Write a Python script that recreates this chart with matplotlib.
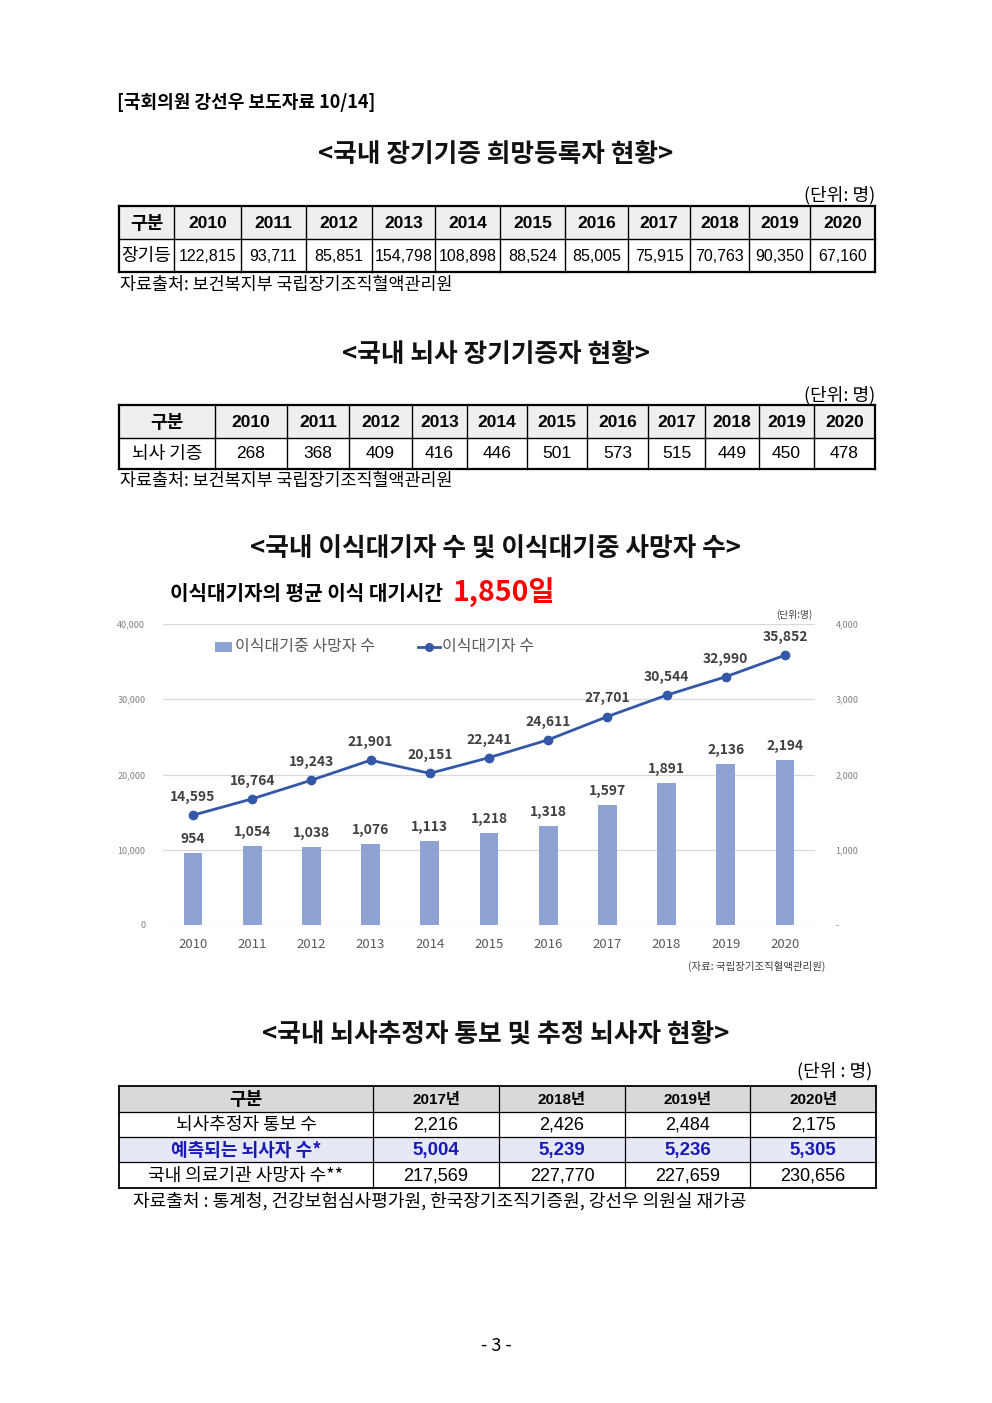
import matplotlib.pyplot as plt
from matplotlib.patches import Rectangle
from matplotlib.lines import Line2D

plt.rcParams['font.family'] = ['Noto Sans CJK KR', 'DejaVu Sans']

# ---- data ----
years = ['2010', '2011', '2012', '2013', '2014', '2015', '2016', '2017', '2018', '2019', '2020']
pledge = [122815, 93711, 85851, 154798, 108898, 88524, 85005, 75915, 70763, 90350, 67160]
braindead_donors = [268, 368, 409, 416, 446, 501, 573, 515, 449, 450, 478]
waiting = [14595, 16764, 19243, 21901, 20151, 22241, 24611, 27701, 30544, 32990, 35852]
deaths = [954, 1054, 1038, 1076, 1113, 1218, 1318, 1597, 1891, 2136, 2194]

t4_years = ['2017년', '2018년', '2019년', '2020년']
t4_labels = ['뇌사추정자 통보 수', '예측되는 뇌사자 수*', '국내 의료기관 사망자 수**']
notified = [2216, 2426, 2484, 2175]
predicted = [5004, 5239, 5236, 5305]
hospital_deaths = [217569, 227770, 227659, 230656]

ARIAL = ['Liberation Sans', 'Noto Sans CJK KR']
KR = ['Noto Sans CJK KR']

fig = plt.figure(figsize=(9.92, 14.03), dpi=100)
bg = fig.add_axes([0, 0, 1, 1])
bg.set_xlim(0, 992)
bg.set_ylim(1403, 0)
bg.axis('off')


def draw_table(xs, ys, rows, fills, fonts, lw_out=1.6, lw_in=1.0):
    for r in range(len(ys) - 1):
        if fills[r]:
            bg.add_patch(Rectangle((xs[0], ys[r]), xs[-1] - xs[0], ys[r + 1] - ys[r],
                                   facecolor=fills[r], edgecolor='none', zorder=1))
        for c in range(len(xs) - 1):
            kw = dict(fonts[r])
            first = kw.pop('first', {})
            if c == 0:
                kw.update(first)
            bg.text((xs[c] + xs[c + 1]) / 2, (ys[r] + ys[r + 1]) / 2 + 1, rows[r][c],
                    ha='center', va='center', zorder=3, **kw)
    for i, x in enumerate(xs):
        lw = lw_out if i in (0, len(xs) - 1) else lw_in
        bg.plot([x, x], [ys[0], ys[-1]], color='black', lw=lw, zorder=2)
    for i, y in enumerate(ys):
        lw = lw_out if i in (0, len(ys) - 1) else lw_in
        bg.plot([xs[0], xs[-1]], [y, y], color='black', lw=lw, zorder=2)


TITLE = dict(fontsize=18.5, fontweight='bold', ha='center', va='center', color='#111111')
NOTE = dict(fontsize=12.5, fontweight='light', ha='left', va='center')

# ---- header ----
bg.text(117, 103, '[국회의원 강선우 보도자료 10/14]', fontsize=13, fontweight='bold',
        va='center', ha='left')

# ---- table 1 ----
bg.text(496, 155, '<국내 장기기증 희망등록자 현황>', **TITLE)
bg.text(875, 195, '(단위: 명)', fontsize=13, fontweight='light', ha='right', va='center')
xs1 = [119, 174, 241, 306, 372, 435, 500, 565, 628, 690, 749, 810, 875]
ys1 = [206, 239, 272]
rows1 = [['구분'] + years, ['장기등'] + [f'{v:,}' for v in pledge]]
draw_table(xs1, ys1, rows1, ['#efefef', None],
           [dict(family=ARIAL, fontsize=12.5, fontweight='bold',
                 first=dict(family=KR, fontsize=13)),
            dict(family=ARIAL, fontsize=11.5,
                 first=dict(family=KR, fontsize=13, fontweight='light'))])
bg.text(120, 285, '자료출처: 보건복지부 국립장기조직혈액관리원', **NOTE)

# ---- table 2 ----
bg.text(496, 355, '<국내 뇌사 장기기증자 현황>', **TITLE)
bg.text(875, 395, '(단위: 명)', fontsize=13, fontweight='light', ha='right', va='center')
xs2 = [119, 215, 287, 349, 412, 467, 527, 587, 648, 705, 759, 814, 875]
ys2 = [405, 437.5, 468.5]
rows2 = [['구분'] + years, ['뇌사 기증'] + [f'{v:,}' for v in braindead_donors]]
draw_table(xs2, ys2, rows2, ['#efefef', None],
           [dict(family=ARIAL, fontsize=12.5, fontweight='bold',
                 first=dict(family=KR, fontsize=13)),
            dict(family=ARIAL, fontsize=12.5,
                 first=dict(family=KR, fontsize=13, fontweight='light'))])
bg.text(120, 481, '자료출처: 보건복지부 국립장기조직혈액관리원', **NOTE)

# ---- chart ----
bg.text(496, 549, '<국내 이식대기자 수 및 이식대기중 사망자 수>', **TITLE)
bg.text(170, 594, '이식대기자의 평균 이식 대기시간', fontsize=14.5, fontweight='bold',
        ha='left', va='center')
bg.text(453, 592, '1,850일', fontsize=20.5, fontweight='bold', color='#ff0000',
        ha='left', va='center')
bg.text(812, 615, '(단위:명)', fontsize=7, color='#404040', ha='right', va='center')
bg.text(825, 966, '(자료: 국립장기조직혈액관리원)', fontsize=7.5, color='#404040',
        ha='right', va='center')

bar_color = '#8fa2d4'
line_color = '#3458a8'
label_color = '#404040'

# legend
bg.add_patch(Rectangle((215, 642), 17, 10, facecolor=bar_color, edgecolor='none'))
bg.text(235, 647, '이식대기중 사망자 수', fontsize=11.5, color='#595959', ha='left', va='center')
bg.add_line(Line2D([418, 440], [647, 647], color=line_color, lw=2))
bg.plot([429], [647], 'o', color=line_color, markersize=5.5)
bg.text(442, 647, '이식대기자 수', fontsize=11.5, color='#595959', ha='left', va='center')

ax = fig.add_axes([163.4 / 992, (1403 - 925) / 1403, 651.2 / 992, 301 / 1403])
ax.set_facecolor('none')
ax2 = ax.twinx()
x = list(range(len(years)))

ax2.bar(x, deaths, width=0.32, color=bar_color, zorder=2)
ax2.set_ylim(0, 4000)
ax2.set_yticks([0, 1000, 2000, 3000, 4000])
ax2.set_yticklabels(['-', '1,000', '2,000', '3,000', '4,000'])
for xi, v in zip(x, deaths):
    ax2.annotate(f'{v:,}', (xi, v), xytext=(0, 5), textcoords='offset points',
                 ha='center', va='bottom', fontsize=10, fontweight='bold', color=label_color)

ax.set_zorder(ax2.get_zorder() + 1)
ax.plot(x, waiting, color=line_color, lw=2, marker='o', markersize=6, zorder=3)
for xi, v in zip(x, waiting):
    ax.annotate(f'{v:,}', (xi, v), xytext=(0, 8), textcoords='offset points',
                ha='center', va='bottom', fontsize=10, fontweight='bold', color=label_color)
ax.set_ylim(0, 40000)
ax.set_xlim(-0.5, len(years) - 0.5)
ax.set_yticks([0, 10000, 20000, 30000, 40000])
ax.set_yticklabels(['0', '10,000', '20,000', '30,000', '40,000'])
ax.set_xticks(x)
ax.set_xticklabels(years)
ax2.grid(axis='y', color='#d9d9d9', lw=0.9, zorder=0)
ax2.set_axisbelow(True)

for a in (ax, ax2):
    for s in a.spines.values():
        s.set_visible(False)
ax.tick_params(axis='y', length=0, pad=13, labelsize=6.5, labelcolor='#808080')
ax2.tick_params(axis='y', length=0, pad=15, labelsize=6.5, labelcolor='#808080')
ax.tick_params(axis='x', length=0, pad=9, labelsize=9.5, labelcolor='#595959')

# ---- table 4 ----
bg.text(496, 1035, '<국내 뇌사추정자 통보 및 추정 뇌사자 현황>', **TITLE)
bg.text(872, 1071, '(단위 : 명)', fontsize=13, fontweight='light', ha='right', va='center')
xs4 = [119, 373, 499, 625, 750, 876]
ys4 = [1086, 1111.5, 1136.5, 1161.5, 1188]
rows4 = [['구분'] + t4_years,
         [t4_labels[0]] + [f'{v:,}' for v in notified],
         [t4_labels[1]] + [f'{v:,}' for v in predicted],
         [t4_labels[2]] + [f'{v:,}' for v in hospital_deaths]]
draw_table(xs4, ys4, rows4, ['#d9d9d9', None, '#e6e9f5', None],
           [dict(family=ARIAL, fontsize=11, fontweight='bold',
                 first=dict(family=KR, fontsize=13)),
            dict(family=ARIAL, fontsize=13,
                 first=dict(family=KR, fontsize=13, fontweight='light')),
            dict(family=ARIAL, fontsize=13.5, fontweight='bold', color='#1a1ab8',
                 first=dict(family=KR, fontsize=13)),
            dict(family=ARIAL, fontsize=13,
                 first=dict(family=KR, fontsize=13, fontweight='light'))],
           lw_out=1.3, lw_in=0.9)
bg.text(133, 1201, '자료출처 : 통계청, 건강보험심사평가원, 한국장기조직기증원, 강선우 의원실 재가공',
        fontsize=13, fontweight='light', ha='left', va='center')

bg.text(496, 1346, '- 3 -', fontsize=13, fontweight='light', ha='center', va='center')

fig.savefig('out.png', dpi=100)
